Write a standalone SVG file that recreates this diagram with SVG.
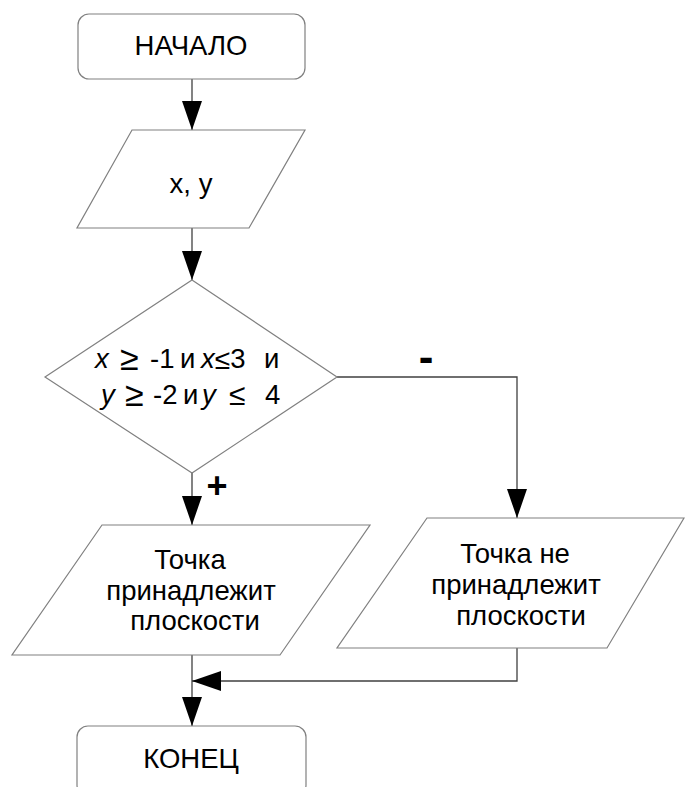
<svg xmlns="http://www.w3.org/2000/svg" width="685" height="787" viewBox="0 0 685 787">
<defs>
<style>
.shape{fill:#fff;stroke:#808080;stroke-width:1.2}
.conn{fill:none;stroke:#404040;stroke-width:1.3}
.t{font-family:"Liberation Sans",Arial,sans-serif;font-size:27.5px;fill:#000}
.c{text-anchor:middle}
.i{font-style:italic}
.lbl{font-family:"Liberation Sans",Arial,sans-serif;font-weight:bold;fill:#000;text-anchor:middle}
</style>
<marker id="ah" markerUnits="userSpaceOnUse" markerWidth="29" markerHeight="20" refX="29" refY="10" orient="auto" viewBox="0 0 29 20">
<path d="M0,0 L29,10 L0,20 z" fill="#000"/>
</marker>
</defs>
<rect width="685" height="787" fill="#fff"/>
<g id="connectors">
<path class="conn" d="M192,79 V130" marker-end="url(#ah)"/>
<path class="conn" d="M192,228 V280" marker-end="url(#ah)"/>
<path class="conn" d="M192,473 V525" marker-end="url(#ah)"/>
<path class="conn" d="M337,377 H517 V518" marker-end="url(#ah)"/>
<path class="conn" d="M192,655 V726" marker-end="url(#ah)"/>
<path class="conn" d="M517,648 V681 H192" marker-end="url(#ah)"/>
<text class="lbl" x="426" y="372" font-size="44">-</text>
<text class="lbl" x="217" y="498" font-size="36">+</text>
</g>
<g id="start">
<rect class="shape" x="78" y="14" width="227" height="65" rx="11"/>
<text class="t c" x="191" y="55">НАЧАЛО</text>
</g>
<g id="input">
<polygon class="shape" points="132,130 305,130 249,228 77,228"/>
<text class="t c" x="191" y="193">x, y</text>
</g>
<g id="decision">
<polygon class="shape" points="192,280 337,377 192,473 45,377"/>
<text class="t"><tspan class="i" x="95" y="368">x</tspan><tspan x="120" y="369.5" font-size="34">≥</tspan><tspan x="150" y="368">-1</tspan><tspan x="180" y="368">и</tspan><tspan class="i" x="201" y="368">x</tspan><tspan font-size="28" y="368.5">≤</tspan><tspan y="368">3</tspan><tspan x="264" y="368">и</tspan></text>
<text class="t"><tspan class="i" x="101" y="404">y</tspan><tspan x="125" y="405.5" font-size="34">≥</tspan><tspan x="153" y="404">-2</tspan><tspan x="183" y="404">и</tspan><tspan class="i" x="202" y="404">y</tspan><tspan x="229" y="405" font-size="30">≤</tspan><tspan x="265" y="404">4</tspan></text>
</g>
<g id="yes">
<polygon class="shape" points="102,525 370,525 280,655 12,655"/>
<text class="t c" x="190" y="569">Точка</text>
<text class="t c" x="191" y="600">принадлежит</text>
<text class="t c" x="195" y="630">плоскости</text>
</g>
<g id="no">
<polygon class="shape" points="427,518 684,518 607,648 337,648"/>
<text class="t c" x="515" y="563">Точка не</text>
<text class="t c" x="516" y="594">принадлежит</text>
<text class="t c" x="521" y="625">плоскости</text>
</g>
<g id="end">
<rect class="shape" x="77" y="726" width="229" height="70" rx="11"/>
<text class="t c" x="191" y="768">КОНЕЦ</text>
</g>
</svg>
